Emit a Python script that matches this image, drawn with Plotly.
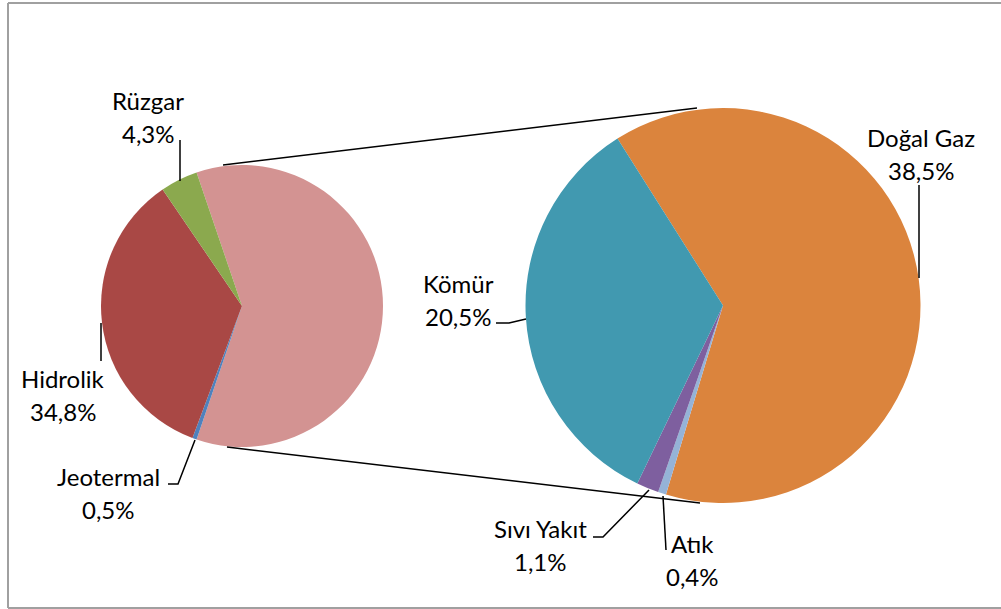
import plotly.graph_objects as go

# ---- data ----
main_labels = ["Rüzgar", "Hidrolik", "Jeotermal"]
main_values = [4.3, 34.8, 0.5]
main_colors = ["#8BA94E", "#A94845", "#4F81BD"]

sub_labels = ["Doğal Gaz", "Kömür", "Sıvı Yakıt", "Atık"]
sub_values = [38.5, 20.5, 1.1, 0.4]
sub_colors = ["#DB843D", "#4199B0", "#7E5F9F", "#95B3D7"]

other_label = "Diğer"
other_color = "#D39392"

W, H = 1001, 609
FONT = "Lato"
FS = 24
LINE_GAP = 33


def px(x):
    return x / W


def py(y):
    return 1 - y / H


def fmt(v):
    return f"{v:.1f}".replace(".", ",") + "%"


other_value = sum(sub_values)
total = other_value + sum(main_values)

# left pie: clockwise order from the upper edge of the split slice (centred at 3 o'clock)
left_labels = [other_label] + main_labels[::-1]
left_values = [other_value] + main_values[::-1]
left_colors = [other_color] + main_colors[::-1]
left_rotation = 90 - (other_value / total * 360) / 2

# right pie: clockwise order
order = [0, 3, 2, 1]
right_labels = [sub_labels[i] for i in order]
right_values = [sub_values[i] for i in order]
right_colors = [sub_colors[i] for i in order]
right_rotation = -32.3

# geometry (pixels)
L_cx, L_cy, L_r = 242, 306, 141
R_cx, R_cy, R_r = 723, 305.5, 197.5

fig = go.Figure()
fig.add_trace(go.Pie(
    labels=left_labels, values=left_values, sort=False, direction="clockwise",
    rotation=left_rotation, marker=dict(colors=left_colors, line=dict(width=0)),
    textinfo="none", hoverinfo="label+percent",
    domain=dict(x=[px(L_cx - L_r), px(L_cx + L_r)], y=[py(L_cy + L_r), py(L_cy - L_r)]),
    showlegend=False,
))
fig.add_trace(go.Pie(
    labels=right_labels, values=right_values, sort=False, direction="clockwise",
    rotation=right_rotation, marker=dict(colors=right_colors, line=dict(width=0)),
    textinfo="none", hoverinfo="label+value",
    domain=dict(x=[px(R_cx - R_r), px(R_cx + R_r)], y=[py(R_cy + R_r), py(R_cy - R_r)]),
    showlegend=False,
))

shapes = []
# chart border (right side lies outside the window): top, left, bottom edges
for (x0, y0, x1, y1) in [(8, 3, 1001, 3), (8, 3, 8, 608), (8, 608, 1001, 608)]:
    shapes.append(dict(type="line", xref="paper", yref="paper",
                       x0=px(x0), y0=py(y0), x1=px(x1), y1=py(y1),
                       line=dict(color="#A0A0A0", width=2)))
# connector lines between pies
for (x0, y0, x1, y1) in [(223, 165, 697, 108), (227, 447, 700, 503)]:
    shapes.append(dict(type="line", xref="paper", yref="paper",
                       x0=px(x0), y0=py(y0), x1=px(x1), y1=py(y1),
                       line=dict(color="black", width=1.5)))

# leader lines (pixel polylines)
leaders = {
    "Rüzgar": [(180, 140), (180, 181)],
    "Hidrolik": [(101, 323), (101, 361)],
    "Jeotermal": [(195, 440), (178, 484), (168, 484)],
    "Kömür": [(496, 323), (509, 323), (526, 319)],
    "Doğal Gaz": [(919, 185), (919, 278)],
    "Sıvı Yakıt": [(649, 490), (603, 537), (593, 537)],
    "Atık": [(663, 496), (666, 550)],
}
for pts in leaders.values():
    path = "M " + " L ".join(f"{px(x)},{py(y)}" for x, y in pts)
    shapes.append(dict(type="path", xref="paper", yref="paper", path=path,
                       line=dict(color="black", width=1.5)))

# label positions (pixel centres of the two-line block)
label_pos = {
    "Rüzgar": (148, 117),
    "Hidrolik": (63, 395),
    "Jeotermal": (108, 493),
    "Kömür": (458, 300),
    "Doğal Gaz": (921, 154),
    "Sıvı Yakıt": (540, 545),
    "Atık": (692, 560),
}
annotations = []
for lab, val in list(zip(main_labels, main_values)) + list(zip(sub_labels, sub_values)):
    x, y = label_pos[lab]
    for txt, yy in ((lab, y - LINE_GAP / 2), (fmt(val), y + LINE_GAP / 2)):
        annotations.append(dict(
            x=px(x), y=py(yy), xref="paper", yref="paper", showarrow=False,
            xanchor="center", yanchor="middle", align="center",
            text=txt,
            font=dict(family=FONT, size=FS, color="black"),
        ))

fig.update_layout(
    width=W, height=H, margin=dict(l=0, r=0, t=0, b=0),
    paper_bgcolor="white", plot_bgcolor="white",
    shapes=shapes, annotations=annotations,
    font=dict(family=FONT),
)

fig.write_html(
    "out.html", config={"displayModeBar": False},
    post_script=("document.body.style.margin='0px';"
                 "document.body.style.overflow='hidden';"
                 "document.documentElement.style.overflow='hidden';"),
)
